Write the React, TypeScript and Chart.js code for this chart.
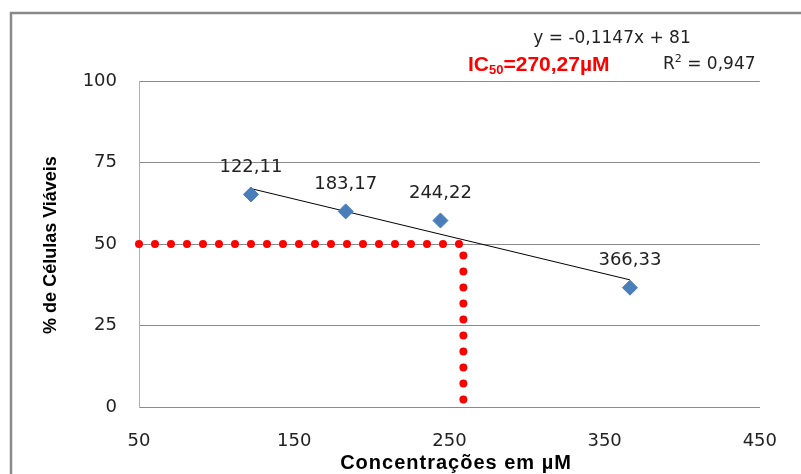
import React, { useEffect, useRef } from "react";
import { Chart, registerables } from "chart.js";

Chart.register(...registerables);

const concentrations = [122.11, 183.17, 244.22, 366.33];
const viability = [65.2, 60, 57.2, 36.6];
const pointLabels = ["122,11", "183,17", "244,22", "366,33"];
const trendX = [122.11, 366.33];
const trendY = [67.0, 39.0];
const ic50GuideX = [50, 259, 259];
const ic50GuideY = [50, 50, 0];
const xTicks = [50, 150, 250, 350, 450];
const yTicks = [0, 25, 50, 75, 100];
const equationText = "y = -0,1147x + 81";
const r2Value = "0,947";
const ic50Value = "=270,27µM";
const xTitle = "Concentrações em µM";
const yTitle = "% de Células Viáveis";

const TICK_FONT = "DejaVu Sans";

const overlayPlugin = {
  id: "overlay",
  beforeDraw(chart: any) {
    const ctx = chart.ctx;
    ctx.save();
    ctx.fillStyle = "#ffffff";
    ctx.fillRect(0, 0, chart.width, chart.height);
    ctx.strokeStyle = "#8a8a8a";
    ctx.lineWidth = 2.5;
    ctx.strokeRect(11, 13, chart.width + 50, chart.height + 50);
    ctx.restore();
  },
  afterDatasetsDraw(chart: any) {
    const ctx = chart.ctx;
    const xs = chart.scales.x;
    const ys = chart.scales.y;
    ctx.save();
    // data labels
    ctx.fillStyle = "#222";
    ctx.font = `18px "${TICK_FONT}"`;
    ctx.textAlign = "center";
    ctx.textBaseline = "middle";
    concentrations.forEach((c, i) => {
      const px = xs.getPixelForValue(c);
      const py = ys.getPixelForValue(viability[i]);
      ctx.fillText(pointLabels[i], px, py - 27);
    });
    // equation
    ctx.font = `17px "${TICK_FONT}"`;
    ctx.fillText(equationText, 612, 39);
    // R2
    ctx.textAlign = "left";
    let x = 663;
    const yb = 65;
    ctx.fillText("R", x, yb);
    x += ctx.measureText("R").width;
    ctx.font = `11px "${TICK_FONT}"`;
    ctx.fillText("2", x, yb - 6);
    x += ctx.measureText("2").width;
    ctx.font = `17px "${TICK_FONT}"`;
    ctx.fillText(" = " + r2Value, x, yb);
    // IC50
    ctx.fillStyle = "#ff0000";
    x = 468;
    ctx.font = `bold 21px "Liberation Sans"`;
    ctx.fillText("IC", x, yb);
    x += ctx.measureText("IC").width;
    ctx.font = `bold 13px "Liberation Sans"`;
    ctx.fillText("50", x, yb + 5);
    x += ctx.measureText("50").width;
    ctx.font = `bold 21px "Liberation Sans"`;
    ctx.fillText(ic50Value, x, yb);
    // axis titles
    ctx.fillStyle = "#000";
    ctx.textAlign = "center";
    ctx.font = `bold 20px "Liberation Sans"`;
    (ctx as any).letterSpacing = "1px";
    ctx.fillText(xTitle, 456, 463);
    (ctx as any).letterSpacing = "0px";
    ctx.translate(51, 245);
    ctx.rotate(-Math.PI / 2);
    ctx.font = `bold 18px "Liberation Sans"`;
    ctx.fillText(yTitle, 0, 0);
    ctx.restore();
  },
};

export default function App() {
  const ref = useRef<HTMLCanvasElement>(null);
  useEffect(() => {
    if (!ref.current) return;
    const chart = new Chart(ref.current, {
      type: "scatter",
      data: {
        datasets: [
          {
            label: "viabilidade",
            data: concentrations.map((c, i) => ({ x: c, y: viability[i] })),
            pointStyle: "rectRot",
            pointRadius: 7.5,
            backgroundColor: "#4a7ebb",
            borderColor: "#4a7ebb",
            borderWidth: 1,
            showLine: false,
            order: 1,
          },
          {
            label: "tendência",
            data: trendX.map((c, i) => ({ x: c, y: trendY[i] })),
            showLine: true,
            borderColor: "#000",
            borderWidth: 1,
            pointRadius: 0,
            order: 2,
          },
          {
            label: "IC50",
            data: ic50GuideX.map((c, i) => ({ x: c, y: ic50GuideY[i] })),
            showLine: true,
            borderColor: "#ff0000",
            borderWidth: 8,
            borderDash: [0, 16],
            borderCapStyle: "round",
            borderJoinStyle: "round",
            pointRadius: 0,
            clip: 10,
            order: 3,
          } as any,
        ],
      },
      options: {
        animation: false,
        responsive: false,
        layout: { padding: { top: 81, right: 39, left: 0, bottom: 0 } },
        plugins: { legend: { display: false }, tooltip: { enabled: false } },
        scales: {
          x: {
            type: "linear",
            min: 50,
            max: 450,
            afterBuildTicks: (s: any) => {
              s.ticks = xTicks.map((v) => ({ value: v }));
            },
            afterFit: (s: any) => {
              s.height = 67;
            },
            grid: { display: false, drawTicks: false },
            border: { display: true, color: "#8a8a8a" },
            ticks: {
              padding: 24,
              color: "#222",
              font: { family: TICK_FONT, size: 18 },
              maxRotation: 0,
            },
          },
          y: {
            type: "linear",
            min: 0,
            max: 100,
            afterBuildTicks: (s: any) => {
              s.ticks = yTicks.map((v) => ({ value: v }));
            },
            afterFit: (s: any) => {
              s.width = 139;
            },
            grid: { color: "#8a8a8a", lineWidth: 1, drawTicks: false },
            border: { display: true, color: "#b0b0b0" },
            ticks: {
              padding: 22,
              color: "#222",
              font: { family: TICK_FONT, size: 18 },
            },
          },
        },
      },
      plugins: [overlayPlugin],
    });
    return () => chart.destroy();
  }, []);
  return (
    <div style={{ position: "absolute", left: 0, top: 0, width: 801, height: 474 }}>
      <canvas ref={ref} width={801} height={474} />
    </div>
  );
}
